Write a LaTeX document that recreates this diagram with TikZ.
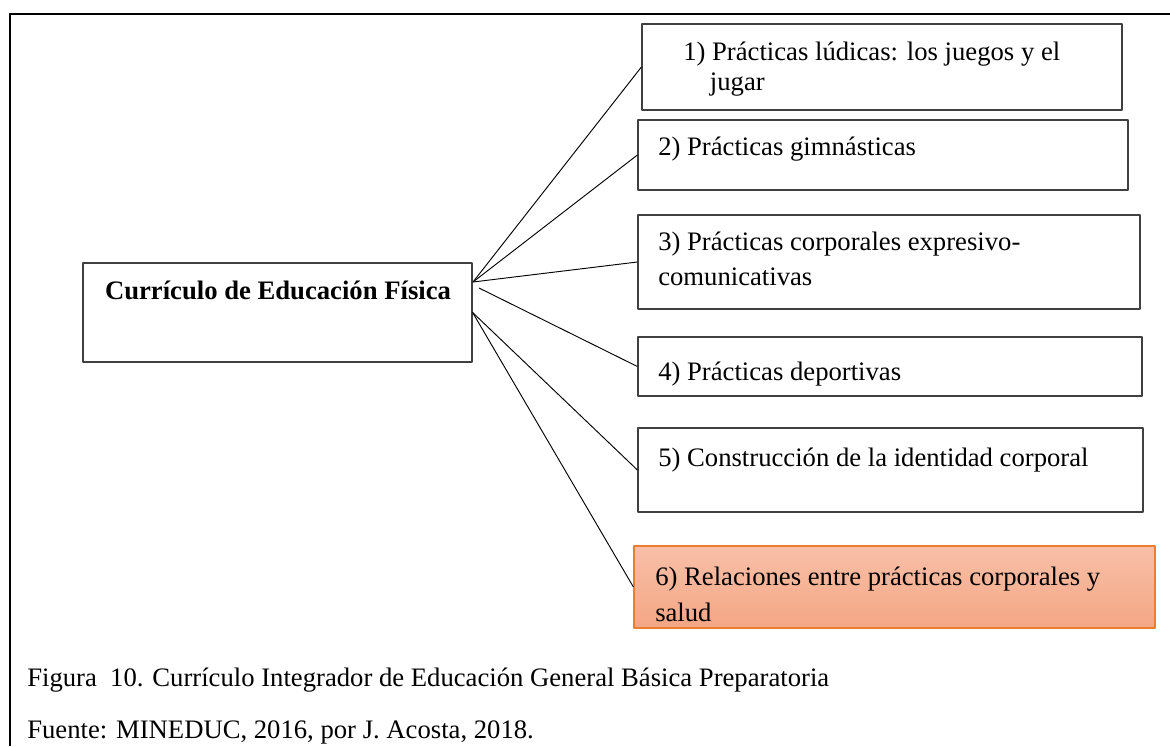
\documentclass[tikz,border=0pt]{standalone}
\usepackage{fontspec}
\setmainfont{Liberation Serif}
\usetikzlibrary{fit}
\definecolor{bordeN}{RGB}{237,125,49}
\definecolor{salmonA}{RGB}{248,192,168}
\definecolor{salmonB}{RGB}{244,166,132}
\begin{document}
\begin{tikzpicture}[x=0.75pt,y=-0.75pt,line join=round,
	caja/.style={draw=black!75,line width=0.9pt,inner sep=0pt},
	cajaN/.style={draw=bordeN,line width=0.9pt,inner sep=0pt,top color=salmonA,bottom color=salmonB},
	txt/.style={anchor=base west,inner sep=0pt,align=left,font=\fontsize{20}{26}\selectfont},
	conn/.style={black,line width=0.7pt}]
	\useasboundingbox (0,0) rectangle (1170,746);
	\draw[line width=1.9pt] (10,746)--(10,14)--(1170,14); % marco
	% cajas
	\node[caja,fit={(83,263) (472,362)}] (cur) {};
	\node[caja,fit={(642,24) (1122,110)}] (b1) {};
	\node[caja,fit={(638,120) (1128,190)}] (b2) {};
	\node[caja,fit={(638,215) (1140,309)}] (b3) {};
	\node[caja,fit={(638,337) (1142,396)}] (b4) {};
	\node[caja,fit={(638,428) (1143,512)}] (b5) {};
	\node[cajaN,fit={(634,546) (1155,628)}] (b6) {};
	% textos (base = ultima linea)
	\path
	(278,299) node[txt,anchor=base,font=\fontsize{20}{26}\bfseries] (tcur) {Currículo de Educación Física}
	(683,90) node[txt,font=\fontsize{20}{22.5}\selectfont] (t1) {1) Prácticas lúdicas: los juegos y el\\\hspace*{1em}jugar}
	(658,155) node[txt] (t2) {2) Prácticas gimnásticas}
	(658,285) node[txt] (t3) {3) Prácticas corporales expresivo-\\comunicativas}
	(658,380) node[txt] (t4) {4) Prácticas deportivas}
	(658,466) node[txt] (t5) {5) Construcción de la identidad corporal}
	(655,621) node[txt,font=\fontsize{20}{27}\selectfont] (t6) {6) Relaciones entre prácticas corporales y\\salud}
	(27,686) node[txt] (fig) {Figura\ \ 10. Currículo Integrador de Educación General Básica Preparatoria}
	(27,738) node[txt] (fte) {Fuente: MINEDUC, 2016, por J. Acosta, 2018.};
	% conectores
	\coordinate (hubA) at (473,282);
	\coordinate (hubB) at (479,288);
	\draw[conn] (hubA)--(b1.west);
	\draw[conn] (hubA)--(b2.west);
	\draw[conn] (hubA)--(b3.west);
	\draw[conn] (hubB)--(b4.west);
	\draw[conn] (cur.east)--(b5.west);
	\draw[conn] (cur.east)--(b6.west);
\end{tikzpicture}
\end{document}
